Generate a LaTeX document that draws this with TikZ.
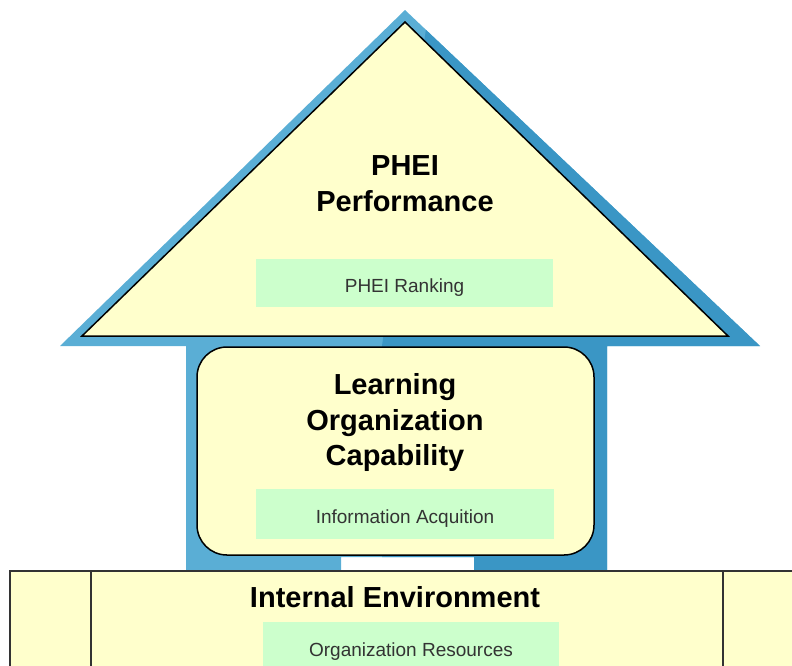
\documentclass[tikz,border=0pt]{standalone}
\usepackage{fontspec}
\setmainfont{Liberation Sans}
\definecolor{paleyellow}{HTML}{FFFFCC}
\definecolor{palegreen}{HTML}{CCFFCC}
\definecolor{arrowlight}{HTML}{5AAED5}
\definecolor{arrowdark}{HTML}{3A96C5}
\definecolor{labelgray}{HTML}{333333}
\definecolor{edgegray}{HTML}{333333}
% outline of the upward house arrow
\def\housearrow{(405,10) -- (760,346) -- (607,346) -- (607,572) -- (474,572) -- (474,557)
  -- (341,557) -- (341,572) -- (186,572) -- (186,346) -- (60,346) -- cycle}
\begin{document}
\begin{tikzpicture}[x=1pt,y=-1pt,
  titleline/.style={font=\bfseries\fontsize{29}{36}\selectfont, anchor=base, inner sep=0pt},
  tag/.style={fill=palegreen, inner sep=0pt, text height=18.6pt, text depth=0pt,
    font=\fontsize{19}{22}\selectfont, text=labelgray},
  panel/.style={fill=paleyellow, draw=black, line width=1.5pt}]
\useasboundingbox (0,0) rectangle (792,665);
\clip (0,0) rectangle (792,665);

% blue arrow body, lit from the left
\fill[arrowlight] \housearrow;
\begin{scope}
  \clip \housearrow;
  \fill[arrowdark] (430,0) -- (382,346) -- (382,600) -- (800,600) -- (800,0) -- cycle;
\end{scope}

% roof: performance
\draw[panel, line join=miter] (405,22) -- (728,336) -- (82,336) -- cycle;
\node[titleline] (perf1) at (405,175) {PHEI};
\node[titleline] (perf2) at (405,211) {Performance};
\node[tag, minimum width=297pt, minimum height=48pt] (rank) at (404.5,283) {PHEI Ranking};

% middle: learning organization capability
\draw[panel, rounded corners=30pt] (197,347) rectangle (594,555);
\node[titleline] (lrn1) at (395,394) {Learning};
\node[titleline] (lrn2) at (395,430) {Organization};
\node[titleline] (lrn3) at (395,465) {Capability};
\node[tag, minimum width=298pt, minimum height=50pt] (info) at (405,514) {Information Acquition};

% foundation: internal environment
\draw[fill=paleyellow, draw=edgegray, line width=2pt] (10,571) rectangle (804,700);
\draw[edgegray, line width=1.5pt] (91,571) -- (91,700);
\draw[edgegray, line width=1.5pt] (723,571) -- (723,700);
\node[titleline] (env) at (395,607) {Internal Environment};
\node[tag, minimum width=296pt, minimum height=50pt] (res) at (411,647) {Organization Resources};
\end{tikzpicture}
\end{document}
